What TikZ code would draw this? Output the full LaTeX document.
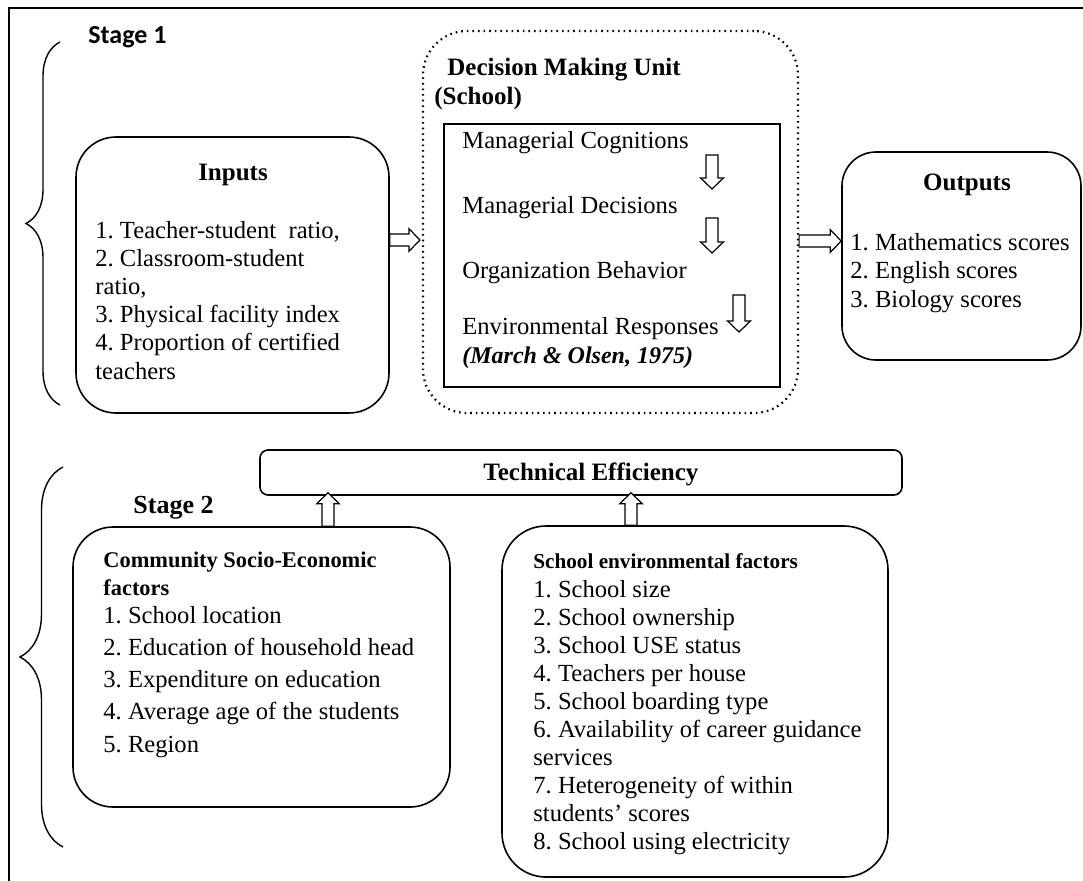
\documentclass[tikz,border=0pt]{standalone}
\usepackage{fontspec}
\setmainfont{Liberation Serif}
\newfontfamily\stagefont{Carlito}
\frenchspacing
\usetikzlibrary{positioning, arrows.meta, calc, decorations.pathreplacing}
\tikzset{
  panel/.style={draw, line width=0.8pt, rounded corners=#1, inner sep=0pt},
  hd/.style={font=\bfseries\fontsize{12.5}{14}\selectfont, anchor=base west, inner sep=0pt},
  sub/.style={font=\bfseries\fontsize{11.2}{13}\selectfont, anchor=base west, inner sep=0pt},
  txt/.style={font=\fontsize{12.3}{14}\selectfont, anchor=base west, inner sep=0pt},
  % hollow block arrow, drawn as an outline from start to target
  blockarr/.style={draw, line width=0.6pt, fill=white, to path={
    let \p1=($(\tikztotarget)-(\tikztostart)$), \n1={atan2(\y1,\x1)},
        \n2={veclen(\x1,\y1)} in
    {[shift={(\tikztostart)}, rotate=\n1]
      (0pt,-3pt) -- (\n2-5.5pt,-3pt) -- (\n2-5.5pt,-5.7pt) -- (\n2,0pt)
      -- (\n2-5.5pt,5.7pt) -- (\n2-5.5pt,3pt) -- (0pt,3pt) -- cycle}}},
  brc/.style={decorate, decoration={brace, amplitude=#1}, line width=0.7pt},
}

\begin{document}
\begin{tikzpicture}[x=0.5pt, y=-0.5pt]
  \useasboundingbox (0,0) rectangle (1083,880);
  % page frame
  \draw[line width=0.9pt] (9,900) -- (9,8) -- (1100,8);

  % ---- stage 1 ----
  \draw[brc=17pt] (60,405) -- (60,42);
  \node[font=\stagefont\bfseries\fontsize{13}{15}\selectfont, anchor=base west, inner sep=0pt]
    (st1) at (88,43) {Stage 1};

  \node[panel=20pt, minimum width=156.5pt, minimum height=138pt] (inputs) at (232.5,275) {};
  \node[hd, anchor=base] (inhd) at (233,180) {Inputs};
  \foreach \t [count=\i from 0] in {{1. Teacher-student\ \ ratio,}, {2. Classroom-student},
      {ratio,}, {3. Physical facility index}, {4. Proportion of certified}, {teachers}}
    \node[txt] (in\i) at (95, 238+28.2*\i) {\t};

  % decision making unit
  \node[panel=22pt, dotted, line width=1.1pt, minimum width=187.5pt, minimum height=191pt]
    (dmu) at (610.5,222) {};
  \node[hd] (dmuhd) at (447,75) {Decision Making Unit};
  \node[hd] (dmusch) at (434,104) {(School)};
  \node[draw, line width=0.8pt, minimum width=168pt, minimum height=131.5pt] (core) at (612,255.5) {};
  \node[txt] (cog) at (462,148) {Managerial Cognitions};
  \node[txt] (dec) at (462,213) {Managerial Decisions};
  \node[txt] (beh) at (462,278) {Organization Behavior};
  \node[txt] (env) at (462,334) {Environmental Responses};
  \node[font=\bfseries\itshape\fontsize{12}{14}\selectfont, anchor=base west, inner sep=0pt]
    (ref) at (462,363) {(March \& Olsen, 1975)};
  \coordinate (d1a) at (712,155);  \coordinate (d1b) at (712,189);
  \coordinate (d2a) at (712,218);  \coordinate (d2b) at (712,253);
  \coordinate (d3a) at (739,295);  \coordinate (d3b) at (739,332);
  \draw[blockarr] (d1a) to (d1b);
  \draw[blockarr] (d2a) to (d2b);
  \draw[blockarr] (d3a) to (d3b);

  % outputs
  \node[panel=17pt, minimum width=119.5pt, minimum height=104pt] (outputs) at (961.5,256) {};
  \node[hd, anchor=base] (outhd) at (967,190) {Outputs};
  \foreach \t [count=\i from 0] in {{1. Mathematics scores}, {2. English scores}, {3. Biology scores}}
    \node[txt] (out\i) at (850, 250+28.5*\i) {\t};

  \coordinate (a1) at (inputs.east |- 0,240);
  \coordinate (a2) at ([xshift=-1pt]dmu.west |- 0,240);
  \coordinate (a3) at (dmu.east |- 0,241);
  \coordinate (a4) at (outputs.west |- 0,241);
  \draw[blockarr] (a1) to (a2);
  \draw[blockarr] (a3) to (a4);

  % ---- stage 2 ----
  \draw[brc=21.5pt] (63,847) -- (63,467);
  \node[font=\bfseries\fontsize{13}{15}\selectfont, anchor=base west, inner sep=0pt]
    (st2) at (133,513) {Stage 2};

  \node[panel=4pt, minimum width=321pt, minimum height=22.5pt] (te) at (581,472.5) {};
  \node[hd] (tehd) at (483,480) {Technical Efficiency};

  \node[panel=20pt, minimum width=188.5pt, minimum height=140pt] (com) at (261.5,667) {};
  \node[sub] (comhd) at (103,567) {Community Socio-Economic};
  \node[sub] (comhd2) at (103,595) {factors};
  \foreach \t [count=\i from 0] in {{1. School location}, {2. Education of household head},
      {3. Expenditure on education}, {4. Average age of the students}, {5. Region}}
    \node[txt] (com\i) at (103, 623+32.3*\i) {\t};

  \node[panel=22pt, minimum width=193pt, minimum height=175.5pt] (sef) at (695,701.5) {};
  \node[sub, font=\bfseries\fontsize{10.6}{13}\selectfont] (sefhd) at (533,568)
    {School environmental factors};
  \foreach \t [count=\i from 0] in {{1. School size}, {2. School ownership}, {3. School USE status},
      {4. Teachers per house}, {5. School boarding type}, {6. Availability of career guidance},
      {services}, {7. Heterogeneity of within}, {students’ scores}, {8. School using electricity}}
    \node[txt] (sef\i) at (533, 597+28.1*\i) {\t};

  \coordinate (u1a) at (com.north -| 328,0);
  \coordinate (u1b) at ([yshift=1.5pt]te.south -| 328,0);
  \coordinate (u2a) at (sef.north -| 631,0);
  \coordinate (u2b) at ([yshift=1.5pt]te.south -| 631,0);
  \draw[blockarr] (u1a) to (u1b);
  \draw[blockarr] (u2a) to (u2b);
\end{tikzpicture}
\end{document}
